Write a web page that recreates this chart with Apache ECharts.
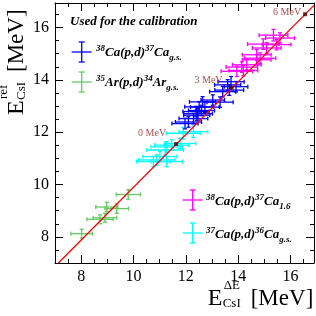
<!DOCTYPE html>
<html><head><meta charset="utf-8">
<script src="https://cdn.jsdelivr.net/npm/echarts@6/dist/echarts.min.js"></script>
<style>html,body{margin:0;padding:0;background:#fff}#c{width:316px;height:316px}</style>
</head><body><div id="c"></div>
<script>
// ---- data ----
const greenX=[8.02,8.72,8.91,8.98,9.36,9.80];
const greenY=[8.12,8.67,8.73,9.14,9.08,9.62];
const greenXErr=[0.41,0.50,0.45,0.42,0.45,0.46];
const greenYErr=[0.17,0.17,0.17,0.18,0.18,0.18];

const cyanX=[12.29,11.90,11.78,11.46,11.27,11.21,11.01,10.89,11.27,10.76];
const cyanY=[12.02,11.96,11.57,11.51,11.44,11.32,11.07,10.94,10.88,10.88];
const cyanXErr=[0.55,0.65,0.60,0.65,0.60,0.70,0.65,0.70,0.60,0.65];
const cyanYErr=[0.22,0.22,0.20,0.20,0.20,0.20,0.20,0.20,0.20,0.20];

const blueX=[13.73,13.92,13.60,13.66,13.41,13.31,13.03,12.73,12.64,12.51,12.60,12.39,12.47,12.42,12.29,12.10,11.97];
const blueY=[13.93,13.74,13.81,13.61,13.55,13.15,13.23,12.96,13.16,12.97,12.83,12.79,12.71,12.65,12.52,12.39,12.33];
const blueXErr=[0.50,0.45,0.50,0.55,0.50,0.50,0.45,0.55,0.50,0.55,0.50,0.50,0.55,0.50,0.55,0.50,0.50];
const blueYErr=[0.20,0.20,0.20,0.20,0.20,0.20,0.20,0.20,0.20,0.20,0.20,0.20,0.20,0.20,0.20,0.20,0.20];

const magX=[15.35,15.60,14.96,15.47,15.09,14.71,14.84,14.71,14.33,14.14,14.20,13.95];
const magY=[15.71,15.60,15.37,15.35,15.22,14.96,14.83,14.77,14.58,14.49,14.36,14.33];
const magXErr=[0.55,0.55,0.60,0.55,0.55,0.55,0.60,0.55,0.55,0.60,0.55,0.60];
const magYErr=[0.22,0.20,0.20,0.20,0.20,0.20,0.20,0.20,0.20,0.20,0.20,0.20];

const lineX=[7.13,16.9];
const lineY=[7.0,16.85];
const markE=[0,3,6];
const markX=[11.63,13.75,16.56];
const markY=[11.55,13.70,16.51];

const majorTicks=[8,10,12,14,16];
// ---- end data ----

const FONT='Liberation Serif';
const chart=echarts.init(document.getElementById('c'),null,{renderer:'canvas'});

function rows(xs,ys,xe,ye){return xs.map((x,i)=>[x,ys[i],xe[i],ye[i]]);}
function errSeries(name,color,data){
  return {type:'custom',name,xAxisIndex:0,yAxisIndex:0,data,z:3,
    renderItem:function(params,api){
      const x=api.value(0),y=api.value(1),ex=api.value(2),ey=api.value(3);
      const l=api.coord([x-ex,y]),r=api.coord([x+ex,y]);
      const t=api.coord([x,y+ey]),b=api.coord([x,y-ey]);
      const st={stroke:color,lineWidth:1.3};
      const c=2;
      return {type:'group',children:[
        {type:'line',shape:{x1:l[0],y1:l[1],x2:r[0],y2:r[1]},style:st},
        {type:'line',shape:{x1:t[0],y1:t[1],x2:b[0],y2:b[1]},style:st},
        {type:'line',shape:{x1:t[0]-c,y1:t[1],x2:t[0]+c,y2:t[1]},style:st},
        {type:'line',shape:{x1:b[0]-c,y1:b[1],x2:b[0]+c,y2:b[1]},style:st},
        {type:'line',shape:{x1:l[0],y1:l[1]-c,x2:l[0],y2:l[1]+c},style:st},
        {type:'line',shape:{x1:r[0],y1:r[1]-c,x2:r[0],y2:r[1]+c},style:st}
      ]};
    }};
}

function minorAxis(pos,labels,max){
  return {type:'value',min:7,max:max,splitLine:{show:false},position:pos,interval:0.5,
    axisLine:{show:true,lineStyle:{color:'#000',width:1}},
    axisTick:{show:true,inside:true,length:4,lineStyle:{color:'#000',width:1}},
    axisLabel:{show:labels,margin:6,fontFamily:FONT,fontSize:16,color:'#000',showMinLabel:false,showMaxLabel:false,
      formatter:v=>(Math.abs(v%2)<1e-9?String(v):'')}};
}
function majorAxis(pos,max){
  return {type:'value',min:7,max:max,splitLine:{show:false},position:pos,
    axisLine:{show:false},
    axisTick:{show:true,inside:true,length:8,customValues:majorTicks,lineStyle:{color:'#000',width:1}},
    axisLabel:{show:false}};
}

const legendRich={
  s:{fontFamily:FONT,fontStyle:'italic',fontWeight:'bold',fontSize:9,lineHeight:9,verticalAlign:'top',color:'#000'},
  t:{fontFamily:FONT,fontStyle:'italic',fontWeight:'bold',fontSize:13,lineHeight:18,verticalAlign:'middle',color:'#000'},
  b:{fontFamily:FONT,fontStyle:'italic',fontWeight:'bold',fontSize:9,lineHeight:7,verticalAlign:'bottom',color:'#000'}
};
function legSym(cx,cy,color){
  const st={stroke:color,lineWidth:1.3};
  return [
    {type:'line',shape:{x1:cx-10,y1:cy,x2:cx+10,y2:cy},style:st},
    {type:'line',shape:{x1:cx,y1:cy-10,x2:cx,y2:cy+10},style:st},
    {type:'line',shape:{x1:cx-3,y1:cy-10,x2:cx+3,y2:cy-10},style:st},
    {type:'line',shape:{x1:cx-3,y1:cy+10,x2:cx+3,y2:cy+10},style:st}
  ];
}
function legText(x,y,txt){
  return {type:'text',x,y,style:{text:txt,rich:legendRich,align:'left',verticalAlign:'middle'}};
}
function axisTitle(x,y,rot,supTxt){
  return {type:'group',x,y,rotation:rot,children:[
    {type:'text',x:0,y:0,style:{text:'E',fontFamily:FONT,fontSize:24,fill:'#000',align:'left',verticalAlign:'middle'}},
    {type:'text',x:16,y:-13,style:{text:supTxt,fontFamily:FONT,fontSize:13,fill:'#000',align:'left',verticalAlign:'middle'}},
    {type:'text',x:15,y:5,style:{text:'CsI',fontFamily:FONT,fontSize:13,fill:'#000',align:'left',verticalAlign:'middle'}},
    {type:'text',x:43,y:0,style:{text:'[MeV]',fontFamily:FONT,fontSize:23,fill:'#000',align:'left',verticalAlign:'middle'}}
  ]};
}

const markOffsets=[[-8,-11],[-7,-7],[-2,-2]];
const markData=markX.map((x,i)=>({value:[x,markY[i]],
  label:{show:true,position:'left',distance:0,offset:markOffsets[i],
    formatter:markE[i]+' MeV'}}));

const XMAX=16.9, YMAX=16.94;
const option={
  animation:false,
  backgroundColor:'#fff',
  grid:{left:55,top:3,width:259,height:260},
  xAxis:[minorAxis('bottom',true,XMAX),minorAxis('top',false,XMAX),majorAxis('bottom',XMAX),majorAxis('top',XMAX)],
  yAxis:[minorAxis('left',true,YMAX),minorAxis('right',false,YMAX),majorAxis('left',YMAX),majorAxis('right',YMAX)],
  series:[
    errSeries('green','#62cc62',rows(greenX,greenY,greenXErr,greenYErr)),
    errSeries('cyan','#00ffff',rows(cyanX,cyanY,cyanXErr,cyanYErr)),
    errSeries('blue','#0000ff',rows(blueX,blueY,blueXErr,blueYErr)),
    errSeries('magenta','#ff00ff',rows(magX,magY,magXErr,magYErr)),
    {type:'line',data:lineX.map((x,i)=>[x,lineY[i]]),showSymbol:false,symbol:'none',z:5,
      lineStyle:{color:'#ff0000',width:1.3},silent:true},
    {type:'scatter',data:markData,symbol:'rect',symbolSize:4,z:6,
      itemStyle:{color:'#4a0000'},
      label:{fontFamily:FONT,fontSize:10,color:'#9a1515'}}
  ],
  graphic:[
    {type:'text',x:70,y:22,style:{text:'Used for the calibration',fontFamily:FONT,fontStyle:'italic',fontWeight:'bold',fontSize:13,fill:'#000',align:'left',verticalAlign:'middle'}},
    ...legSym(81.7,52,'#0000ff'),
    legText(96,53,'{s|38}{t|Ca(p,d)}{s|37}{t|Ca}{b|g.s.}'),
    ...legSym(81.7,82,'#62cc62'),
    legText(96,83,'{s|35}{t|Ar(p,d)}{s|34}{t|Ar}{b|g.s.}'),
    ...legSym(192.7,200,'#ff00ff'),
    legText(206,202,'{s|38}{t|Ca(p,d)}{s|37}{t|Ca}{b|1.6}'),
    ...legSym(192.7,233,'#00ffff'),
    legText(206,235,'{s|37}{t|Ca(p,d)}{s|36}{t|Ca}{b|g.s.}'),
    axisTitle(207.7,299,0,'ΔE'),
    axisTitle(16.5,115,Math.PI/2,'ref')
  ]
};
chart.setOption(option);
</script>
</body></html>
